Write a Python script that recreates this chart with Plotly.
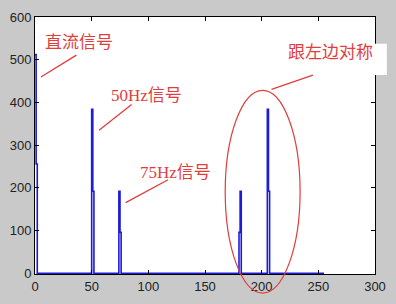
import numpy as np
import plotly.graph_objects as go

# ---- data ----
n_points = 256
peak_bins = [0, 1, 50, 51, 74, 75, 180, 181, 205, 206]
peak_values = [512, 256, 384, 192, 192, 96, 96, 192, 384, 192]
x_ticks = [0, 50, 100, 150, 200, 250, 300]
y_ticks = [0, 100, 200, 300, 400, 500, 600]
labels = ["直流信号", "50Hz信号", "75Hz信号", "跟左边对称"]

bins = np.arange(n_points)
spectrum = np.zeros(n_points)
for b, v in zip(peak_bins, peak_values):
    spectrum[b] = v

W, H = 396, 304
L, R, T, B = 35, 380, 10, 280  # plot area in pixels


def px(xp):
    return (xp - L) / (R - L)


def py(yp):
    return (B - yp) / (B - T)


RED = "#e23c3c"
GRAY = "#c9c9c9"
FONT_ANN = dict(family="Liberation Serif, Noto Sans CJK SC", size=17, color=RED)

fig = go.Figure()
fig.add_trace(go.Scatter(
    x=bins, y=spectrum, mode="lines", line_shape="hv",
    line=dict(color="#1c1cd8", width=1.6), showlegend=False,
))

fig.update_layout(
    width=W, height=H,
    margin=dict(l=L, r=W - R, t=T, b=H - B),
    paper_bgcolor=GRAY, plot_bgcolor="white",
    font=dict(family="Liberation Sans, Arial", size=13, color="#222"),
    xaxis=dict(range=[0, 300], tickvals=x_ticks, ticks="inside", ticklen=4,
               tickcolor="#000", showline=True, linecolor="#000", linewidth=1,
               mirror="ticks", showgrid=False, zeroline=False),
    yaxis=dict(range=[-1.5, 600], tickvals=y_ticks, ticks="inside", ticklen=4,
               tickcolor="#000", showline=True, linecolor="#000", linewidth=1,
               mirror="ticks", showgrid=False, zeroline=False),
)

shapes = []
# white box behind the right label
shapes.append(dict(type="rect", xref="paper", yref="paper",
                   x0=px(287), x1=px(392), y0=py(71), y1=py(38),
                   fillcolor="white", line=dict(width=0), layer="above"))
# pointer lines
for (x0, y0, x1, y1) in [(41, 73, 77, 50), (100, 129, 133, 102),
                         (127, 205, 170, 181), (275, 86, 317, 71)]:
    shapes.append(dict(type="line", xref="paper", yref="paper",
                       x0=px(x0), y0=py(y0), x1=px(x1), y1=py(y1),
                       line=dict(color=RED, width=1.3), layer="above"))
# ellipse
shapes.append(dict(type="circle", xref="paper", yref="paper",
                   x0=px(228), x1=px(304), y0=py(300), y1=py(87),
                   line=dict(color=RED, width=1.2), layer="above"))
fig.update_layout(shapes=shapes)

for text, (cx, cy) in zip(labels, [(80, 37), (148, 92), (178, 173), (335, 47)]):
    fig.add_annotation(text=text, xref="paper", yref="paper",
                       x=px(cx), y=py(cy), xanchor="center", yanchor="middle",
                       showarrow=False, font=FONT_ANN)

fig.write_html("out.html")
